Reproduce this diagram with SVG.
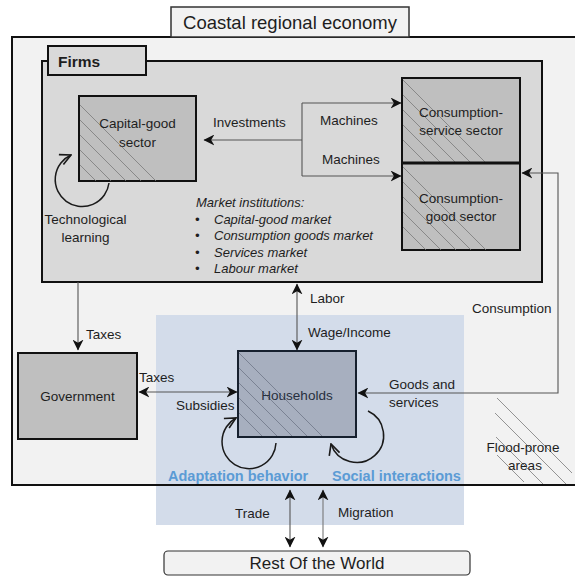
<svg xmlns="http://www.w3.org/2000/svg" width="575" height="582" viewBox="0 0 575 582">
  <style>
    text { font-family: "Liberation Sans", Arial, sans-serif; font-size: 13.5px; fill: #1e1e1e; }
    .mid { text-anchor: middle; }
    .ital { font-style: italic; font-size: 13px; }
    .blue { fill: #5b9bd5; font-weight: bold; font-size: 14.5px; }
    .box { fill: #bfbfbf; stroke: #111; stroke-width: 2; }
    .hatch { stroke: #7a7a7a; stroke-width: 0.8; fill: none; }
    .conn { stroke: #555; stroke-width: 1.1; fill: none; }
    .loop { stroke: #1a1a1a; stroke-width: 1.5; fill: none; }
  </style>
  <defs>
    <marker id="arr" viewBox="0 0 10 10" refX="9.5" refY="5" markerWidth="11" markerHeight="11" markerUnits="userSpaceOnUse" orient="auto-start-reverse">
      <path d="M0,0 L10,5 L0,10 L3,5 z" fill="#111"/>
    </marker>
    <marker id="open" viewBox="0 0 12 12" refX="11" refY="6" markerWidth="13" markerHeight="13" markerUnits="userSpaceOnUse" orient="auto">
      <path d="M1,1 L11,6 L1,11" fill="none" stroke="#1a1a1a" stroke-width="1.5"/>
    </marker>
  </defs>

  <!-- region background -->
  <rect x="12" y="37" width="570" height="448" fill="#f2f2f2"/>
  <!-- household sphere -->
  <rect x="156" y="315" width="308" height="210" fill="#d3dcea"/>
  <!-- region border -->
  <rect x="12" y="37" width="570" height="448" fill="none" stroke="#111" stroke-width="2"/>

  <g id="title">
    <rect x="171" y="7" width="238" height="30" fill="#f2f2f2" stroke="#333" stroke-width="1.5"/>
    <text x="290" y="28.5" class="mid" style="font-size:18.5px">Coastal regional economy</text>
  </g>

  <g id="firms">
    <rect x="42" y="61" width="500" height="221" fill="#d9d9d9" stroke="#111" stroke-width="2"/>
    <rect x="48" y="46" width="98" height="29" fill="#d9d9d9" stroke="#111" stroke-width="2"/>
    <text x="58" y="67" style="font-weight:bold;font-size:15.5px">Firms</text>
  </g>

  <g id="capital-good">
    <rect x="79" y="96" width="117" height="85" class="box"/>
    <path class="hatch" d="M80,105 L156,181 M80,120 L141,181 M80,135 L126,181 M80,150 L111,181 M80,165 L96,181"/>
    <text x="137.5" y="128" class="mid">Capital-good</text>
    <text x="137.5" y="147" class="mid">sector</text>
  </g>

  <g id="consumption-service">
    <rect x="402" y="78" width="118" height="85" class="box"/>
    <path class="hatch" d="M403,80 L486,163 M403,95 L471,163 M403,110 L456,163 M403,125 L441,163 M403,140 L426,163"/>
    <text x="461" y="117" class="mid">Consumption-</text>
    <text x="461" y="135" class="mid">service sector</text>
  </g>

  <g id="consumption-good">
    <rect x="402" y="163" width="118" height="87" class="box"/>
    <path class="hatch" d="M403,167 L486,250 M403,182 L471,250 M403,197 L456,250 M403,212 L441,250 M403,227 L426,250"/>
    <line x1="402" y1="163" x2="520" y2="163" stroke="#111" stroke-width="3"/>
    <text x="461" y="203" class="mid">Consumption-</text>
    <text x="461" y="221" class="mid">good sector</text>
  </g>

  <g id="market-institutions">
    <text x="196" y="207" class="ital">Market institutions:</text>
    <text x="195" y="224" class="ital">•</text>
    <text x="214" y="224" class="ital">Capital-good market</text>
    <text x="195" y="240" class="ital">•</text>
    <text x="214" y="240" class="ital">Consumption goods  market</text>
    <text x="195" y="257" class="ital">•</text>
    <text x="214" y="257" class="ital">Services market</text>
    <text x="195" y="273" class="ital">•</text>
    <text x="214" y="273" class="ital">Labour market</text>
  </g>

  <g id="government">
    <rect x="18" y="353" width="119" height="86" class="box"/>
    <text x="77.5" y="401" class="mid">Government</text>
  </g>

  <g id="households">
    <rect x="238" y="351" width="118" height="86" fill="#a7afbf" stroke="#16202e" stroke-width="2"/>
    <path class="hatch" d="M239,353 L322,436 M239,368 L307,436 M239,383 L292,436 M239,398 L277,436 M239,413 L262,436" style="stroke:#6e7688"/>
    <text x="297" y="399.5" class="mid" style="fill:#27303e">Households</text>
  </g>

  <g id="rest-of-world">
    <rect x="164" y="551" width="306" height="24" rx="4" fill="#f2f2f2" stroke="#333" stroke-width="1.2"/>
    <text x="317" y="569" class="mid" style="font-size:17px">Rest Of the World</text>
  </g>

  <g id="flood-prone">
    <path class="hatch" d="M497,398 L572,473 M495,413 L566,484 M496,437 L543,484 M497,455 L524,482"/>
    <text x="523" y="452" class="mid">Flood-prone</text>
    <text x="525" y="470" class="mid">areas</text>
  </g>

  <g id="connectors">
    <path class="conn" d="M302,140 H204" marker-end="url(#arr)"/>
    <path class="conn" d="M302,103 V176"/>
    <path class="conn" d="M302,103 H401" marker-end="url(#arr)"/>
    <path class="conn" d="M302,176 H401" marker-end="url(#arr)"/>
    <path class="conn" d="M358,393 H558 V173 H522" marker-start="url(#arr)" marker-end="url(#arr)"/>
    <path class="conn" d="M78,282 V350" marker-end="url(#arr)"/>
    <path class="conn" d="M297,284 V350" marker-start="url(#arr)" marker-end="url(#arr)"/>
    <path class="conn" d="M139,392 H237" marker-start="url(#arr)" marker-end="url(#arr)"/>
    <path class="conn" d="M290,490 V547" marker-start="url(#arr)" marker-end="url(#arr)"/>
    <path class="conn" d="M323,490 V547" marker-start="url(#arr)" marker-end="url(#arr)" style="stroke:#777"/>
    <path class="loop" d="M109,183 A27,27 0 1 1 71,155" marker-end="url(#open)"/>
    <path class="loop" d="M276,443 A27,27 0 1 1 236,418" marker-end="url(#open)"/>
    <path class="loop" d="M368,411 A27,27 0 1 1 331,444" marker-end="url(#open)"/>
  </g>

  <g id="labels">
    <text x="213" y="127">Investments</text>
    <text x="320" y="125">Machines</text>
    <text x="322" y="164">Machines</text>
    <text x="85.5" y="224" class="mid">Technological</text>
    <text x="85.5" y="242" class="mid">learning</text>
    <text x="86" y="339">Taxes</text>
    <text x="310" y="303">Labor</text>
    <text x="308" y="337">Wage/Income</text>
    <text x="472" y="313">Consumption</text>
    <text x="139" y="382">Taxes</text>
    <text x="176" y="410">Subsidies</text>
    <text x="389" y="389">Goods and</text>
    <text x="389" y="407">services</text>
    <text x="168" y="481" class="blue">Adaptation behavior</text>
    <text x="332" y="481" class="blue">Social interactions</text>
    <text x="235" y="518">Trade</text>
    <text x="338" y="517">Migration</text>
  </g>
</svg>
